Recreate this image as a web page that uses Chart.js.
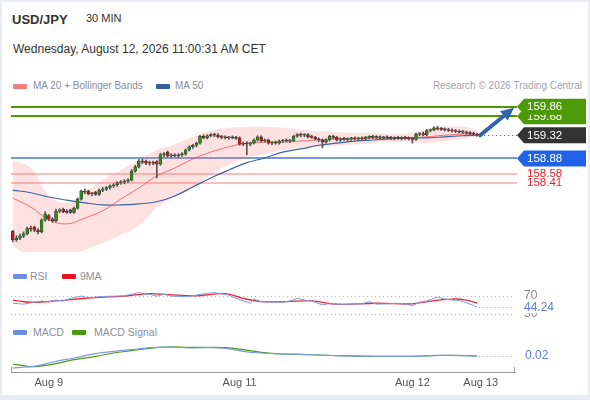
<!DOCTYPE html>
<html>
<head>
<meta charset="utf-8">
<script src="https://cdn.jsdelivr.net/npm/chart.js@4.4.1/dist/chart.umd.min.js"></script>
<style>
body { margin: 0; background: #e9edf1; width: 590px; height: 400px; overflow: hidden; font-family: "Liberation Sans", Arial, sans-serif; }
#frame { position: absolute; left: 2px; top: 2px; width: 586px; height: 393px; background: #fff; }
canvas { position: absolute; left: 0; top: 0; }
.t { position: absolute; white-space: nowrap; line-height: 1; }
.lg { font-size: 10.5px; color: #8a909a; }
.sw { position: absolute; width: 14px; height: 5px; border-radius: 1px; }
</style>
</head>
<body>
<div id="frame"></div>
<div class="t" style="left:12px;top:13px;font-size:13px;font-weight:bold;color:#333">USD/JPY</div>
<div class="t" style="left:86px;top:13px;font-size:11px;color:#333">30 MIN</div>
<div class="t" style="left:13px;top:43px;font-size:12px;color:#333">Wednesday, August 12, 2026 11:00:31 AM CET</div>

<div class="sw" style="left:13px;top:84px;background:#f47c7c"></div>
<div class="t lg" style="left:33px;top:81px;font-size:10px">MA 20 + Bollinger Bands</div>
<div class="sw" style="left:156px;top:84px;background:#355ea0"></div>
<div class="t lg" style="left:175px;top:81px;font-size:10px">MA 50</div>
<div class="t lg" style="right:8px;top:81px;font-size:10px;color:#a0a4aa">Research © 2026 Trading Central</div>

<div class="sw" style="left:13px;top:274px;background:#6d8fe3"></div>
<div class="t lg" style="left:30px;top:271px">RSI</div>
<div class="sw" style="left:62px;top:274px;background:#e8141c"></div>
<div class="t lg" style="left:80px;top:271px">9MA</div>

<div class="sw" style="left:13px;top:330px;background:#6d8fe3"></div>
<div class="t lg" style="left:33px;top:327px">MACD</div>
<div class="sw" style="left:72px;top:330px;background:#4a9a10"></div>
<div class="t lg" style="left:94px;top:327px">MACD Signal</div>

<canvas id="price" width="590" height="400"></canvas>
<canvas id="rsi" width="590" height="400"></canvas>
<canvas id="macd" width="590" height="400"></canvas>

<script>
// 30 min candles
var opens = [157.50, 157.34, 157.37, 157.41, 157.45, 157.55, 157.58, 157.52, 157.49, 157.71,
    157.80, 157.73, 157.70, 157.88, 157.92, 157.87, 157.90, 157.86, 157.94, 158.11,
    158.26, 158.26, 158.21, 158.24, 158.20, 158.28, 158.30, 158.33, 158.36, 158.38,
    158.42, 158.43, 158.45, 158.47, 158.64, 158.72, 158.83, 158.83, 158.79, 158.80,
    158.82, 158.77, 158.95, 159.00, 158.93, 158.94, 158.93, 158.95, 158.96, 159.04,
    159.10, 159.13, 159.17, 159.30, 159.27, 159.31, 159.33, 159.32, 159.29, 159.28,
    159.27, 159.28, 159.27, 159.27, 159.15, 159.17, 159.15, 159.17, 159.23, 159.29,
    159.21, 159.23, 159.17, 159.18, 159.17, 159.21, 159.22, 159.21, 159.22, 159.30,
    159.33, 159.32, 159.33, 159.29, 159.28, 159.25, 159.23, 159.19, 159.23, 159.30,
    159.28, 159.23, 159.25, 159.24, 159.25, 159.26, 159.25, 159.26, 159.25, 159.28,
    159.29, 159.28, 159.29, 159.27, 159.28, 159.27, 159.26, 159.27, 159.26, 159.27,
    159.26, 159.25, 159.24, 159.34, 159.35, 159.33, 159.41, 159.42, 159.46, 159.44,
    159.43, 159.42, 159.41, 159.40, 159.39, 159.38, 159.38, 159.36, 159.35, 159.34];
var highs = [157.52, 157.42, 157.45, 157.49, 157.58, 157.60, 157.60, 157.55, 157.74, 157.87,
    157.82, 157.76, 157.92, 157.93, 157.94, 157.91, 157.92, 157.96, 158.13, 158.28,
    158.30, 158.28, 158.24, 158.26, 158.30, 158.33, 158.35, 158.38, 158.40, 158.44,
    158.46, 158.48, 158.50, 158.67, 158.75, 158.86, 158.87, 158.85, 158.83, 158.83,
    158.84, 158.98, 158.99, 159.02, 158.97, 158.97, 158.97, 158.99, 159.06, 159.12,
    159.15, 159.19, 159.32, 159.33, 159.33, 159.35, 159.36, 159.35, 159.32, 159.31,
    159.30, 159.31, 159.30, 159.29, 159.19, 159.20, 159.19, 159.25, 159.31, 159.31,
    159.25, 159.25, 159.20, 159.21, 159.23, 159.24, 159.25, 159.24, 159.32, 159.35,
    159.36, 159.35, 159.35, 159.32, 159.30, 159.27, 159.25, 159.25, 159.32, 159.32,
    159.30, 159.27, 159.28, 159.27, 159.28, 159.29, 159.28, 159.29, 159.30, 159.31,
    159.32, 159.31, 159.31, 159.30, 159.31, 159.30, 159.29, 159.30, 159.29, 159.30,
    159.29, 159.28, 159.36, 159.37, 159.38, 159.43, 159.44, 159.48, 159.49, 159.47,
    159.46, 159.45, 159.44, 159.43, 159.42, 159.41, 159.40, 159.39, 159.38, 159.36];
var lows = [157.30, 157.31, 157.34, 157.38, 157.43, 157.50, 157.49, 157.45, 157.47, 157.69,
    157.70, 157.67, 157.68, 157.85, 157.85, 157.84, 157.84, 157.84, 157.92, 158.09,
    158.21, 158.19, 158.17, 158.18, 158.18, 158.25, 158.27, 158.30, 158.33, 158.35,
    158.39, 158.40, 158.42, 158.45, 158.62, 158.70, 158.78, 158.76, 158.75, 158.76,
    158.51, 158.75, 158.91, 158.90, 158.90, 158.91, 158.90, 158.92, 158.94, 159.02,
    159.07, 159.10, 159.15, 159.25, 159.25, 159.29, 159.29, 159.27, 159.25, 159.25,
    159.24, 159.25, 159.24, 159.13, 159.12, 158.95, 159.12, 159.15, 159.21, 159.19,
    159.19, 159.15, 159.14, 159.15, 159.15, 159.18, 159.19, 159.18, 159.20, 159.28,
    159.29, 159.29, 159.27, 159.26, 159.23, 159.20, 159.08, 159.17, 159.21, 159.25,
    159.21, 159.20, 159.22, 159.21, 159.22, 159.23, 159.22, 159.23, 159.23, 159.25,
    159.26, 159.25, 159.25, 159.24, 159.25, 159.24, 159.23, 159.24, 159.23, 159.24,
    159.23, 159.17, 159.22, 159.31, 159.31, 159.31, 159.38, 159.40, 159.42, 159.41,
    159.40, 159.39, 159.38, 159.37, 159.36, 159.35, 159.34, 159.33, 159.32, 159.30];
var closes = [157.34, 157.37, 157.41, 157.45, 157.55, 157.54, 157.52, 157.49, 157.71, 157.83,
    157.73, 157.70, 157.88, 157.90, 157.87, 157.86, 157.86, 157.94, 158.11, 158.26,
    158.24, 158.21, 158.22, 158.20, 158.28, 158.30, 158.33, 158.36, 158.38, 158.42,
    158.43, 158.45, 158.47, 158.64, 158.72, 158.83, 158.81, 158.79, 158.80, 158.79,
    158.77, 158.95, 158.96, 158.93, 158.94, 158.93, 158.95, 158.96, 159.04, 159.10,
    159.13, 159.17, 159.30, 159.27, 159.31, 159.33, 159.32, 159.29, 159.28, 159.27,
    159.28, 159.27, 159.26, 159.15, 159.17, 159.15, 159.17, 159.23, 159.29, 159.21,
    159.23, 159.17, 159.18, 159.17, 159.21, 159.22, 159.21, 159.22, 159.30, 159.33,
    159.32, 159.33, 159.29, 159.28, 159.25, 159.23, 159.19, 159.23, 159.30, 159.28,
    159.23, 159.25, 159.24, 159.25, 159.26, 159.25, 159.26, 159.25, 159.28, 159.29,
    159.28, 159.29, 159.27, 159.28, 159.27, 159.26, 159.27, 159.26, 159.27, 159.26,
    159.25, 159.24, 159.34, 159.35, 159.33, 159.41, 159.42, 159.46, 159.44, 159.43,
    159.42, 159.41, 159.40, 159.39, 159.38, 159.38, 159.36, 159.35, 159.34, 159.32];

// indicator lines, read at a few candles
var maIdx = [0, 5, 10, 15, 20, 25, 30, 35, 40, 45, 50, 55, 60, 65, 70, 75, 80, 85, 90, 95, 100, 105, 110, 115, 120, 125, 129];
var ma20 = [158.13, 157.96, 157.72, 157.64, 157.75, 157.89, 158.11, 158.32, 158.55, 158.70, 158.87, 159.00, 159.10, 159.17,
    159.19, 159.19, 159.21, 159.23, 159.25, 159.25, 159.27, 159.27, 159.27, 159.29, 159.32, 159.34, 159.34];
var bbUpper = [158.85, 158.70, 158.19, 158.04, 158.24, 158.47, 158.66, 158.85, 159.04, 159.15, 159.29, 159.40, 159.46, 159.48,
    159.48, 159.46, 159.42, 159.40, 159.38, 159.36, 159.36, 159.34, 159.36, 159.44, 159.48, 159.48, 159.42];
var bbLower = [157.24, 156.99, 156.92, 156.99, 157.15, 157.28, 157.43, 157.60, 157.94, 158.15, 158.32, 158.57, 158.76, 158.89,
    158.96, 159.04, 159.08, 159.10, 159.12, 159.15, 159.17, 159.19, 159.19, 159.17, 159.21, 159.25, 159.29];
var ma50 = [158.28, 158.23, 158.15, 158.09, 158.04, 158.00, 158.00, 158.02, 158.06, 158.17, 158.34, 158.51, 158.66, 158.80,
    158.89, 159.00, 159.06, 159.13, 159.17, 159.21, 159.23, 159.25, 159.27, 159.27, 159.29, 159.31, 159.32];

var levels = [159.86, 159.68, 158.88, 158.58, 158.41];

var rsiIdx = [0, 3, 6, 8, 10, 12, 14, 16, 19, 21, 25, 28, 31, 33, 35, 37, 38, 40, 42, 44, 48, 51, 54, 56, 58, 60, 62, 64, 66,
    67, 69, 72, 75, 77, 79, 81, 83, 86, 88, 90, 94, 97, 99, 101, 104, 107, 109, 111, 113, 115, 118, 120, 122, 124, 126, 128, 129];
var rsi = [53.3, 51.1, 55.5, 58.4, 56.9, 60.5, 58.4, 64.2, 69.3, 65.6, 68.5, 69.3, 70.0, 73.6, 77.3, 72.9, 73.6, 69.3, 73.6,
    69.3, 67.8, 71.5, 75.8, 77.3, 74.4, 71.5, 64.2, 58.4, 53.3, 62.7, 56.9, 55.5, 55.5, 58.4, 64.2, 60.5, 58.4, 49.6, 52.5,
    51.1, 51.1, 51.8, 56.9, 51.1, 51.8, 53.3, 51.1, 48.2, 55.5, 58.4, 67.1, 62.7, 60.5, 59.8, 54.0, 48.2, 44.24];
var rsiMaIdx = [0, 5, 12, 22, 31, 38, 43, 51, 59, 64, 69, 76, 83, 90, 101, 111, 115, 122, 126, 129];
var rsiMa = [60.5, 55.5, 58.4, 65.6, 69.3, 75.0, 72.9, 70.0, 75.0, 64.2, 56.9, 56.9, 58.4, 51.1, 53.3, 51.8, 57.0, 62.7, 60.5, 53.3];
var rsiLevels = [70, 30];

var macdIdx = [0, 4, 7, 12, 17, 23, 28, 33, 38, 43, 49, 54, 59, 64, 69, 75, 80, 85, 90, 101, 111, 117, 122, 129];
var macd = [-0.16, -0.145, -0.125, -0.06, -0.01, 0.055, 0.09, 0.115, 0.145, 0.155, 0.14, 0.145, 0.135, 0.09, 0.065, 0.05,
    0.045, 0.035, 0.025, 0.015, 0.015, 0.03, 0.03, 0.02];
var macdSignal = [-0.10, -0.135, -0.135, -0.095, -0.035, 0.015, 0.065, 0.10, 0.135, 0.155, 0.15, 0.15, 0.145, 0.115, 0.075,
    0.05, 0.045, 0.035, 0.025, 0.015, 0.015, 0.025, 0.03, 0.02];

var dayTicks = [10, 63, 111, 130];
var dayLabels = ['Aug 9', 'Aug 11', 'Aug 12', 'Aug 13'];

var UP = '#2f8a1c', DOWN = '#c8161d';
var FONT = '"Liberation Sans", Arial, sans-serif';
var xRange = { min: -0.5, max: 139.5 };

function pts(idx, vals) {
    return idx.map(function(x, k) { return { x: x, y: vals[k] }; });
}

function tag(ctx, x, y, color, text) {
    ctx.fillStyle = color;
    ctx.beginPath();
    ctx.moveTo(x, y);
    ctx.lineTo(x + 7, y - 8);
    ctx.lineTo(x + 69, y - 8);
    ctx.lineTo(x + 69, y + 8);
    ctx.lineTo(x + 7, y + 8);
    ctx.closePath();
    ctx.fill();
    ctx.fillStyle = '#fff';
    ctx.font = '11.5px ' + FONT;
    ctx.textBaseline = 'middle';
    ctx.fillText(text, x + 10, y + 0.5);
}

function dotted(ctx, x1, x2, y, color) {
    ctx.save();
    ctx.strokeStyle = color;
    ctx.lineWidth = 1;
    ctx.setLineDash([1, 3]);
    ctx.beginPath();
    ctx.moveTo(x1, Math.round(y) + 0.5);
    ctx.lineTo(x2, Math.round(y) + 0.5);
    ctx.stroke();
    ctx.restore();
}

var priceExtras = {
    id: 'priceExtras',
    beforeDatasetsDraw: function(chart) {
        var ctx = chart.ctx, a = chart.chartArea, y = chart.scales.y;
        var colors = ['#4c9a06', '#4c9a06', '#4a78d0', '#f7a8a8', '#f7a8a8'];
        var widths = [2, 2, 1.5, 1.5, 1.5];
        ctx.save();
        levels.forEach(function(v, i) {
            var py = Math.round(y.getPixelForValue(v));
            ctx.strokeStyle = colors[i];
            ctx.lineWidth = widths[i];
            ctx.beginPath();
            ctx.moveTo(a.left, py);
            ctx.lineTo(a.right + 2, py);
            ctx.stroke();
        });
        ctx.restore();
    },
    afterDraw: function(chart) {
        var ctx = chart.ctx, a = chart.chartArea, x = chart.scales.x, y = chart.scales.y;
        var last = closes.length - 1, lastClose = closes[last];
        var tipX = a.right + 2;
        ctx.save();
        dotted(ctx, x.getPixelForValue(last) + 3, tipX, y.getPixelForValue(lastClose), '#555');
        tag(ctx, tipX, y.getPixelForValue(levels[1]), '#4c9a06', levels[1].toFixed(2));
        tag(ctx, tipX, y.getPixelForValue(levels[0]), '#4c9a06', levels[0].toFixed(2));
        tag(ctx, tipX, y.getPixelForValue(lastClose), '#333', lastClose.toFixed(2));
        tag(ctx, tipX, y.getPixelForValue(levels[2]), '#1f62e8', levels[2].toFixed(2));
        ctx.fillStyle = '#ee1c25';
        ctx.font = '11.5px ' + FONT;
        ctx.textBaseline = 'middle';
        ctx.fillText(levels[3].toFixed(2), tipX + 10, y.getPixelForValue(levels[3]));
        ctx.fillText(levels[4].toFixed(2), tipX + 10, y.getPixelForValue(levels[4]));

        // arrow from the last candle up to the first target
        var x0 = x.getPixelForValue(last) + 3, y0 = y.getPixelForValue(lastClose);
        var x1 = tipX - 3, y1 = y.getPixelForValue(levels[0]) + 1;
        var ang = Math.atan2(y1 - y0, x1 - x0);
        ctx.strokeStyle = '#2e64b0';
        ctx.fillStyle = '#2e64b0';
        ctx.lineWidth = 4;
        ctx.lineCap = 'round';
        ctx.beginPath();
        ctx.moveTo(x0, y0);
        ctx.lineTo(x1 - 8 * Math.cos(ang), y1 - 8 * Math.sin(ang));
        ctx.stroke();
        ctx.beginPath();
        ctx.moveTo(x1, y1);
        ctx.lineTo(x1 - 13 * Math.cos(ang) + 6 * Math.sin(ang), y1 - 13 * Math.sin(ang) - 6 * Math.cos(ang));
        ctx.lineTo(x1 - 13 * Math.cos(ang) - 6 * Math.sin(ang), y1 - 13 * Math.sin(ang) + 6 * Math.cos(ang));
        ctx.closePath();
        ctx.fill();
        ctx.restore();
    }
};

var rsiExtras = {
    id: 'rsiExtras',
    beforeDatasetsDraw: function(chart) {
        var a = chart.chartArea, y = chart.scales.y;
        rsiLevels.forEach(function(v) {
            dotted(chart.ctx, a.left, a.right, y.getPixelForValue(v), '#b8b8b8');
        });
    },
    afterDraw: function(chart) {
        var ctx = chart.ctx, a = chart.chartArea, x = chart.scales.x, y = chart.scales.y;
        var lastX = rsiIdx[rsiIdx.length - 1], lastV = rsi[rsi.length - 1];
        dotted(ctx, x.getPixelForValue(lastX) + 2, a.right, y.getPixelForValue(lastV), '#6d8fe3');
        ctx.save();
        ctx.font = '12px ' + FONT;
        ctx.textBaseline = 'middle';
        ctx.fillStyle = '#888';
        rsiLevels.forEach(function(v) {
            ctx.fillText(String(v), a.right + 9, y.getPixelForValue(v));
        });
        var ly = y.getPixelForValue(lastV);
        ctx.fillStyle = '#fff';
        ctx.fillRect(a.right + 8, ly - 6, 34, 12);
        ctx.fillStyle = '#5b82e0';
        ctx.fillText(lastV.toFixed(2), a.right + 9, ly);
        ctx.restore();
    }
};

var macdExtras = {
    id: 'macdExtras',
    afterDraw: function(chart) {
        var ctx = chart.ctx, a = chart.chartArea, x = chart.scales.x, y = chart.scales.y;
        var lastX = macdIdx[macdIdx.length - 1], lastV = macd[macd.length - 1];
        dotted(ctx, x.getPixelForValue(lastX) + 2, a.right, y.getPixelForValue(lastV), '#6d8fe3');
        ctx.save();
        ctx.font = '12px ' + FONT;
        ctx.textBaseline = 'middle';
        ctx.fillStyle = '#5b82e0';
        ctx.fillText(lastV.toFixed(2), a.right + 10, y.getPixelForValue(lastV));
        // end caps on the time axis
        ctx.strokeStyle = '#999';
        ctx.lineWidth = 1;
        ctx.beginPath();
        ctx.moveTo(a.left + 0.5, a.bottom - 5);
        ctx.lineTo(a.left + 0.5, a.bottom);
        ctx.moveTo(a.right - 0.5, a.bottom - 5);
        ctx.lineTo(a.right - 0.5, a.bottom);
        ctx.stroke();
        ctx.restore();
    }
};

var baseOpts = function(pad, yMin, yMax, showX) {
    return {
        responsive: false,
        animation: false,
        events: [],
        layout: { padding: pad },
        plugins: { legend: { display: false }, tooltip: { enabled: false } },
        scales: {
            x: {
                type: 'linear', min: xRange.min, max: xRange.max, offset: false, display: showX,
                grid: { display: false, drawTicks: false },
                border: { display: true, color: '#999' },
                afterBuildTicks: function(scale) {
                    scale.ticks = dayTicks.map(function(v) { return { value: v }; });
                },
                ticks: {
                    autoSkip: false, maxRotation: 0, padding: 4, color: '#555',
                    font: { family: FONT, size: 11 },
                    callback: function(v) { return dayLabels[dayTicks.indexOf(v)]; }
                }
            },
            y: { display: false, min: yMin, max: yMax }
        }
    };
};

function lineSet(data, color, width, tension, extra) {
    var ds = { type: 'line', data: data, borderColor: color, borderWidth: width, pointRadius: 0, tension: tension, fill: false, order: 2 };
    for (var k in extra) ds[k] = extra[k];
    return ds;
}

new Chart(document.getElementById('price'), {
    type: 'bar',
    data: {
        datasets: [
            {
                data: closes.map(function(c, i) { return { x: i, y: [opens[i], c] }; }),
                backgroundColor: function(c) { return closes[c.dataIndex] >= opens[c.dataIndex] ? UP : DOWN; },
                borderColor: '#3c3c3c', borderWidth: 0.6, borderSkipped: false,
                barThickness: 3, minBarLength: 1, grouped: false, order: 0
            },
            {
                data: closes.map(function(c, i) { return { x: i, y: [lows[i], highs[i]] }; }),
                backgroundColor: '#555', borderWidth: 0,
                barThickness: 1, grouped: false, order: 1
            },
            lineSet(pts(maIdx, bbUpper), 'rgba(0,0,0,0)', 0, 0.4,
                { fill: '+1', backgroundColor: 'rgba(248,110,110,0.2)', order: 4 }),
            lineSet(pts(maIdx, bbLower), 'rgba(0,0,0,0)', 0, 0.4, { order: 4 }),
            lineSet(pts(maIdx, ma20), 'rgba(240,90,90,0.85)', 1, 0.4, { order: 3 }),
            lineSet(pts(maIdx, ma50), '#3d63a6', 1.2, 0.4, { order: 3 })
        ]
    },
    options: baseOpts({ left: 11, right: 75, top: 95, bottom: 148 }, 157.108, 160.082, false),
    plugins: [priceExtras]
});

new Chart(document.getElementById('rsi'), {
    type: 'line',
    data: {
        datasets: [
            lineSet(pts(rsiIdx, rsi), '#7b9be8', 1, 0, {}),
            lineSet(pts(rsiMaIdx, rsiMa), '#ec2a30', 1.3, 0.4, {})
        ]
    },
    options: baseOpts({ left: 11, right: 75, top: 286.5, bottom: 82 }, 20, 91, false),
    plugins: [rsiExtras]
});

new Chart(document.getElementById('macd'), {
    type: 'line',
    data: {
        datasets: [
            lineSet(pts(macdIdx, macd), '#7b9be8', 1.2, 0.4, {}),
            lineSet(pts(macdIdx, macdSignal), '#4a9a10', 1.2, 0.4, {})
        ]
    },
    options: baseOpts({ left: 11, right: 75, top: 340, bottom: 6.8 }, -0.22, 0.26, true),
    plugins: [macdExtras]
});
</script>
</body>
</html>
